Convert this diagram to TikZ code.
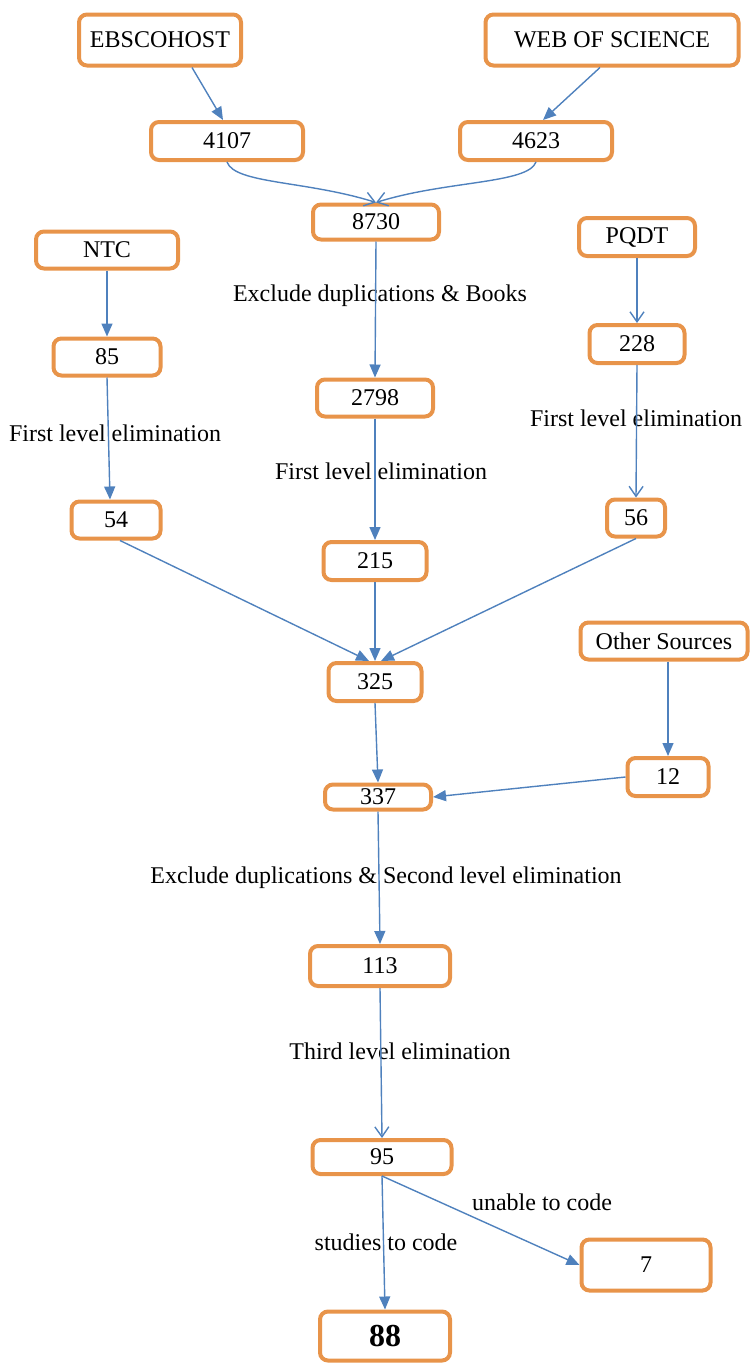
\documentclass[tikz,border=0pt]{standalone}
\usepackage{fontspec}
\setmainfont{Liberation Serif}
\usetikzlibrary{arrows.meta,positioning}
\definecolor{boxorange}{RGB}{232,148,74}
\definecolor{arrblue}{RGB}{79,129,189}

\begin{document}
\begin{tikzpicture}[
    x=0.5pt, y=-0.5pt,
    font=\fontsize{12}{14}\selectfont,
    box/.style={draw=boxorange, line width=2pt, rounded corners=4pt,
        fill=white, inner sep=0pt},
    boxsize/.style 2 args={minimum width=#1*0.5pt-2pt,
        minimum height=#2*0.5pt-2pt},
    lbl/.style={inner sep=0pt},
    conn/.style={draw=arrblue, line width=0.7pt},
    fillarr/.style={conn, -{Triangle[length=6.5pt,width=5.5pt]}},
    openarr/.style={conn, -{Straight Barb[length=5pt,width=7pt]}},
    ]

    \useasboundingbox (0,0) rectangle (751,1365);

    %databases
    \node[box, boxsize={166}{55}] (ebsco) at (160,40) {EBSCOHOST};
    \node[box, boxsize={257}{55}] (wos) at (612,40) {WEB OF SCIENCE};
    \node[box, boxsize={146}{41}] (ntc) at (107,250) {NTC};
    \node[box, boxsize={120}{42}] (pqdt) at (637,237) {PQDT};
    \node[box, boxsize={171}{41}] (other) at (664,641) {Other Sources};

    %counts
    \node[box, boxsize={156}{42}] (n4107) at (227,141) {4107};
    \node[box, boxsize={156}{42}] (n4623) at (536,141) {4623};
    \node[box, boxsize={130}{39}] (n8730) at (376,222) {8730};
    \node[box, boxsize={111}{41}] (n85) at (107,357) {85};
    \node[box, boxsize={99}{42}] (n228) at (637,344) {228};
    \node[box, boxsize={120}{41}] (n2798) at (375,398) {2798};
    \node[box, boxsize={93}{41}] (n54) at (116,520) {54};
    \node[box, boxsize={62}{41}] (n56) at (636,518) {56};
    \node[box, boxsize={107}{42}] (n215) at (375,561) {215};
    \node[box, boxsize={97}{42}] (n325) at (375,682) {325};
    \node[box, boxsize={85}{42}] (n12) at (668,777) {12};
    \node[box, boxsize={110}{29}] (n337) at (378,797) {337};
    \node[box, boxsize={144}{44}] (n113) at (380,966) {113};
    \node[box, boxsize={143}{38}] (n95) at (382,1157) {95};
    \node[box, boxsize={133}{55}] (n7) at (646,1265) {7};
    \node[box, boxsize={134}{53}, font=\fontsize{16}{18}\selectfont\bfseries]
        (n88) at (385,1336) {88};

    %labels
    \node[lbl] (lblbooks) at (380,296) {Exclude duplications \& Books};
    \node[lbl] (lblfirstl) at (115,433) {First level elimination};
    \node[lbl] (lblfirstm) at (381,471) {First level elimination};
    \node[lbl] (lblfirstr) at (636,418) {First level elimination};
    \node[lbl] (lblsecond) at (386,878) {Exclude duplications \& Second level elimination};
    \node[lbl] (lblthird) at (400,1051) {Third level elimination};
    \node[lbl] (lblunable) at (542,1202) {unable to code};
    \node[lbl] (lblstudies) at (386,1242) {studies to code};

    %connectors
    \draw[fillarr] ([xshift=16pt]ebsco.south) -- ([xshift=-2pt]n4107.north);
    \draw[fillarr] ([xshift=-6pt]wos.south) -- ([xshift=3.5pt]n4623.north);
    \draw[openarr] (n4107.south) .. controls +(8,22) and +(-70,-22) .. (n8730.north);
    \draw[openarr] (n4623.south) .. controls +(-8,22) and +(70,-22) .. (n8730.north);
    \draw[fillarr] (n8730.south) -- (n2798.north);
    \draw[fillarr] (ntc.south) -- (n85.north);
    \draw[fillarr] (n85.south) -- ([xshift=-3pt]n54.north);
    \draw[openarr] (pqdt.south) -- (n228.north);
    \draw[openarr] (n228.south) -- (n56.north);
    \draw[fillarr] (n2798.south) -- (n215.north);
    \draw[fillarr] ([xshift=2pt]n54.south) -- ([xshift=-3pt]n325.north);
    \draw[fillarr] (n56.south) -- ([xshift=3pt]n325.north);
    \draw[fillarr] (n215.south) -- (n325.north);
    \draw[fillarr] ([xshift=2pt]other.south) -- (n12.north);
    \draw[fillarr] (n325.south) -- (n337.north);
    \draw[fillarr] (n12.west) -- (n337.east);
    \draw[fillarr] (n337.south) -- (n113.north);
    \draw[openarr] (n113.south) -- (n95.north);
    \draw[fillarr] (n95.south) -- (n88.north);
    \draw[fillarr] (n95.south) -- (n7.west);

\end{tikzpicture}
\end{document}
